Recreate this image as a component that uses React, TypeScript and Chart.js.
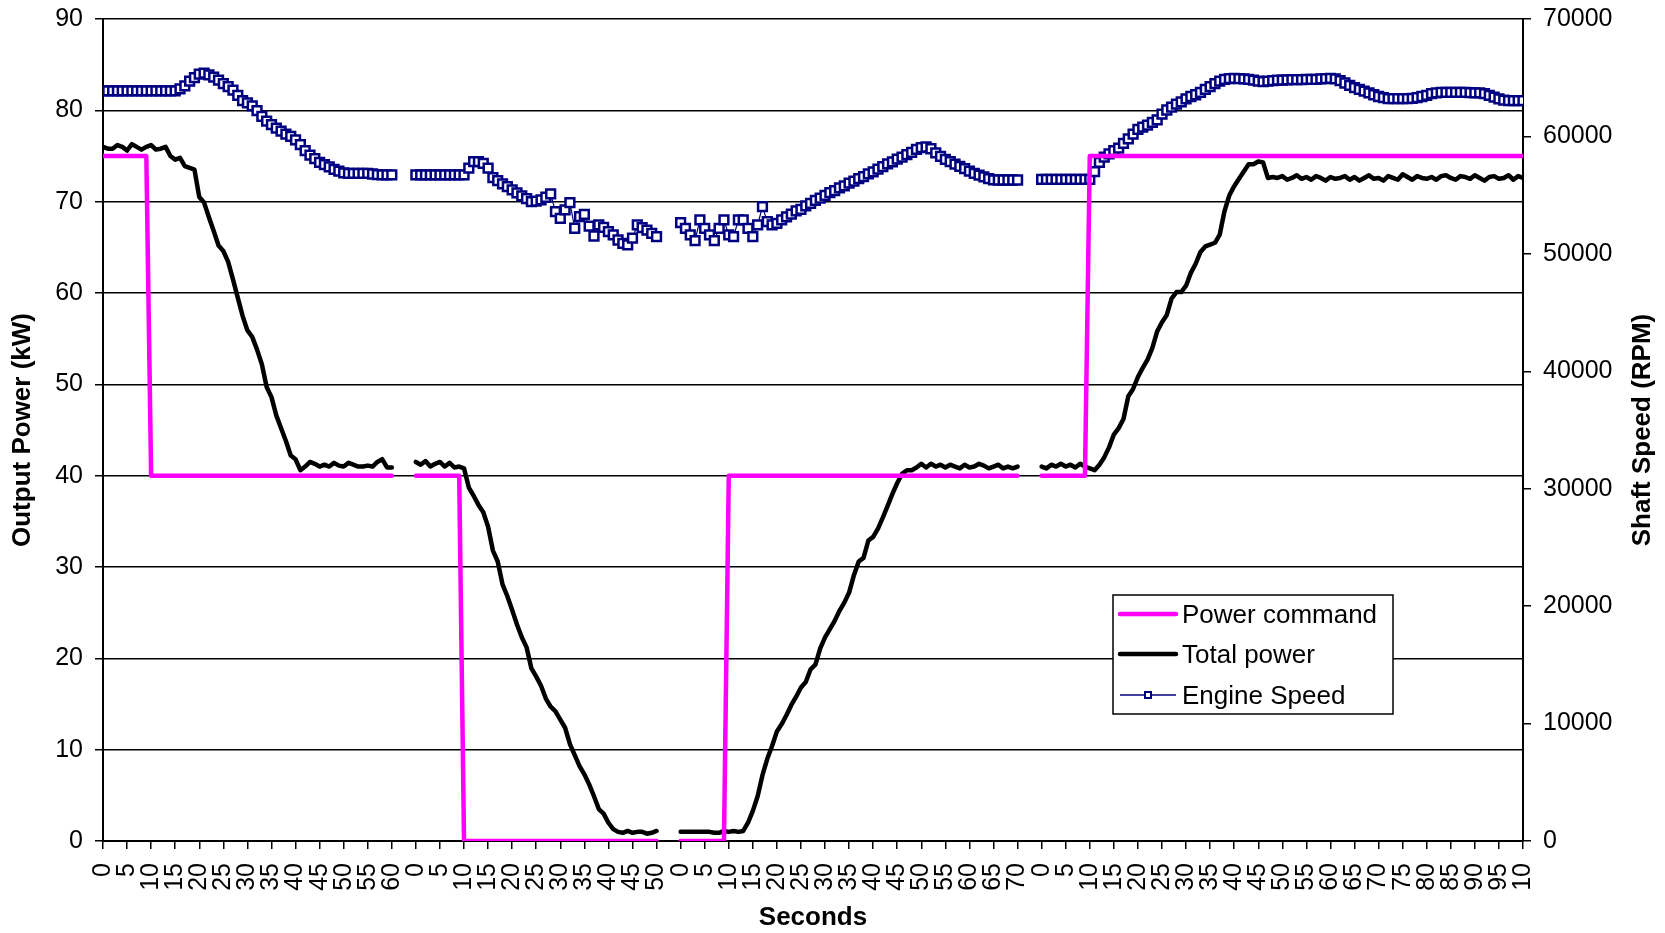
import React, { useEffect, useRef } from 'react';
import { Chart, registerables } from 'chart.js';

Chart.register(...registerables);

const FONT = '"Liberation Sans", Arial, Helvetica, sans-serif';

// Number of blank categories between two test runs on the category axis
const GAP_CATEGORIES = 4;

// Category-axis labels shown (every 5th category)
const tickLabels = [
  '0', '5', '10', '15', '20', '25', '30', '35', '40', '45', '50', '55', '60',
  '0', '5', '10', '15', '20', '25', '30', '35', '40', '45', '50',
  '0', '5', '10', '15', '20', '25', '30', '35', '40', '45', '50', '55', '60', '65', '70',
  '0', '5', '10', '15', '20', '25', '30', '35', '40', '45', '50', '55', '60', '65', '70', '75', '80', '85', '90', '95', '10',
];

// ---- Run 1 (0..60 s) ----
const powerCommand1 = [
  75, 75, 75, 75, 75, 75, 75, 75, 75, 75,
  40, 40, 40, 40, 40, 40, 40, 40, 40, 40,
  40, 40, 40, 40, 40, 40, 40, 40, 40, 40,
  40, 40, 40, 40, 40, 40, 40, 40, 40, 40,
  40, 40, 40, 40, 40, 40, 40, 40, 40, 40,
  40, 40, 40, 40, 40, 40, 40, 40, 40, 40,
  40,
];
const totalPower1 = [
  76.0, 75.8, 75.8, 76.2, 76.0, 75.6, 76.3, 76.0, 75.7, 76.0,
  76.2, 75.7, 75.8, 76.0, 75.0, 74.6, 74.8, 73.9, 73.7, 73.5,
  70.5, 69.9, 68.3, 66.8, 65.2, 64.6, 63.4, 61.5, 59.5, 57.5,
  55.9, 55.2, 53.8, 52.2, 49.7, 48.6, 46.6, 45.2, 43.8, 42.2,
  41.8, 40.6, 41.0, 41.5, 41.3, 41.0, 41.2, 41.0, 41.4, 41.1,
  41.0, 41.4, 41.2, 41.0, 41.0, 41.1, 41.0, 41.5, 41.8, 40.9,
  40.9,
];
const engineSpeed1 = [
  63870, 63870, 63870, 63870, 63870, 63870, 63870, 63870, 63870, 63870,
  63870, 63870, 63870, 63870, 63870, 63870, 64050, 64300, 64700, 65000,
  65300, 65400, 65250, 65050, 64800, 64500, 64250, 63950, 63500, 63050,
  62850, 62600, 62200, 61700, 61300, 61000, 60700, 60450, 60200, 60000,
  59700, 59300, 58800, 58400, 58100, 57800, 57600, 57400, 57200, 57050,
  56900, 56850, 56850, 56850, 56850, 56850, 56800, 56750, 56720, 56720,
  56720,
];

// ---- Run 2 (0..50 s) ----
const powerCommand2 = [
  40, 40, 40, 40, 40, 40, 40, 40, 40, 40,
  0, 0, 0, 0, 0, 0, 0, 0, 0, 0,
  0, 0, 0, 0, 0, 0, 0, 0, 0, 0,
  0, 0, 0, 0, 0, 0, 0, 0, 0, 0,
  0, 0, 0, 0, 0, 0, 0, 0, 0, 0,
  0,
];
const totalPower2 = [
  41.5, 41.2, 41.6, 41.0, 41.3, 41.5, 41.0, 41.4, 40.9, 41.0,
  40.8, 38.7, 37.8, 36.8, 36.0, 34.4, 31.8, 30.6, 28.1, 26.8,
  25.3, 23.7, 22.3, 21.2, 18.9, 18.0, 17.0, 15.6, 14.7, 14.2,
  13.3, 12.4, 10.6, 9.4, 8.2, 7.3, 6.2, 4.9, 3.5, 3.0,
  2.0, 1.3, 1.0, 0.9, 1.1, 0.9, 1.0, 1.0, 0.8, 0.9,
  1.1,
];
const engineSpeed2 = [
  56720, 56720, 56720, 56720, 56720, 56720, 56720, 56720, 56720, 56720,
  56720, 57300, 57850, 57850, 57710, 57300, 56500, 56230, 55950, 55720,
  55450, 55200, 54930, 54700, 54440, 54500, 54590, 54820, 55100, 53590,
  53030, 53740, 54360, 52180, 53170, 53370, 52370, 51520, 52460, 52260,
  51890, 51610, 51180, 50900, 50760, 51330, 52460, 52230, 52030, 51750,
  51460,
];

// ---- Run 3 (0..70 s) ----
const powerCommand3 = [
  0, 0, 0, 0, 0, 0, 0, 0, 0, 0,
  40, 40, 40, 40, 40, 40, 40, 40, 40, 40,
  40, 40, 40, 40, 40, 40, 40, 40, 40, 40,
  40, 40, 40, 40, 40, 40, 40, 40, 40, 40,
  40, 40, 40, 40, 40, 40, 40, 40, 40, 40,
  40, 40, 40, 40, 40, 40, 40, 40, 40, 40,
  40, 40, 40, 40, 40, 40, 40, 40, 40, 40,
  40,
];
const totalPower3 = [
  1.0, 1.0, 1.0, 1.0, 1.0, 1.0, 1.0, 0.9, 0.9, 1.1,
  1.0, 1.1, 1.0, 1.1, 2.0, 3.3, 4.9, 7.2, 9.0, 10.4,
  12.0, 12.8, 13.8, 14.9, 15.8, 16.8, 17.4, 18.8, 19.3, 21.1,
  22.3, 23.2, 24.1, 25.2, 26.1, 27.2, 29.1, 30.6, 31.0, 32.9,
  33.3, 34.2, 35.4, 36.7, 38.0, 39.2, 40.2, 40.6, 40.6, 40.9,
  41.3, 40.9, 41.3, 41.0, 41.2, 40.9, 41.2, 41.0, 40.8, 41.2,
  40.9, 41.0, 41.3, 41.1, 40.8, 41.0, 41.2, 40.8, 41.0, 40.8,
  41.0,
];
const engineSpeed3 = [
  52650, 52170, 51610, 51120, 52890, 52170, 51610, 51120, 52170, 52890,
  51610, 51460, 52890, 52890, 52170, 51460, 52460, 54020, 52740, 52460,
  52600, 52890, 53150, 53380, 53660, 53790, 54080, 54290, 54560, 54740,
  54980, 55220, 55390, 55610, 55780, 56020, 56190, 56410, 56580, 56810,
  56990, 57210, 57420, 57660, 57840, 58060, 58240, 58460, 58640, 58900,
  59050, 59100, 58950, 58600, 58300, 58050, 57850, 57650, 57450, 57250,
  57050, 56850, 56700, 56550, 56400, 56300, 56290, 56290, 56290, 56290,
  56290,
];

// ---- Run 4 (0..100 s) ----
const powerCommand4 = [
  40, 40, 40, 40, 40, 40, 40, 40, 40, 40,
  75, 75, 75, 75, 75, 75, 75, 75, 75, 75,
  75, 75, 75, 75, 75, 75, 75, 75, 75, 75,
  75, 75, 75, 75, 75, 75, 75, 75, 75, 75,
  75, 75, 75, 75, 75, 75, 75, 75, 75, 75,
  75, 75, 75, 75, 75, 75, 75, 75, 75, 75,
  75, 75, 75, 75, 75, 75, 75, 75, 75, 75,
  75, 75, 75, 75, 75, 75, 75, 75, 75, 75,
  75, 75, 75, 75, 75, 75, 75, 75, 75, 75,
  75, 75, 75, 75, 75, 75, 75, 75, 75, 75,
  75,
];
const totalPower4 = [
  41.0, 40.8, 41.2, 41.0, 41.3, 41.0, 41.2, 40.9, 41.3, 41.0,
  40.8, 40.6, 41.2, 42.0, 43.1, 44.5, 45.2, 46.2, 48.7, 49.5,
  50.8, 51.8, 52.7, 54.0, 55.8, 56.8, 57.6, 59.4, 60.1, 60.1,
  60.8, 62.2, 63.2, 64.5, 65.1, 65.3, 65.5, 66.4, 69.0, 70.7,
  71.7, 72.5, 73.3, 74.1, 74.1, 74.4, 74.3, 72.6, 72.7, 72.6,
  72.8, 72.4, 72.6, 72.9, 72.5, 72.7, 72.4, 72.8, 72.6, 72.3,
  72.7, 72.5, 72.6, 72.8, 72.4, 72.7, 72.3, 72.6, 72.9, 72.5,
  72.6, 72.3, 72.8, 72.6, 72.4, 73.0, 72.7, 72.4, 72.8, 72.6,
  72.5, 72.7, 72.4, 72.8, 72.9, 72.6, 72.4, 72.8, 72.7, 72.5,
  72.9, 72.6, 72.3, 72.7, 72.8, 72.5, 72.6, 72.9, 72.4, 72.8,
  72.6,
];
const engineSpeed4 = [
  56340, 56340, 56340, 56340, 56340, 56340, 56340, 56340, 56340, 56340,
  56340, 57000, 57790, 58240, 58510, 58800, 59000, 59400, 59800, 60200,
  60600, 60800, 60960, 61200, 61410, 61900, 62250, 62500, 62750, 62950,
  63200, 63400, 63550, 63750, 64000, 64250, 64500, 64700, 64850, 64930,
  64950, 64930, 64900, 64850, 64800, 64700, 64660, 64700, 64750, 64800,
  64800, 64820, 64840, 64840, 64840, 64850, 64850, 64850, 64900, 64930,
  64950, 64900, 64750, 64550, 64350, 64150, 64000, 63850, 63700, 63550,
  63400, 63300, 63220, 63220, 63220, 63220, 63220, 63250, 63300, 63400,
  63500, 63650, 63700, 63760, 63760, 63760, 63760, 63760, 63760, 63740,
  63700, 63700, 63650, 63500, 63350, 63200, 63100, 63050, 63040, 63040,
  63040,
];

const powerCommandRuns = [powerCommand1, powerCommand2, powerCommand3, powerCommand4];
const totalPowerRuns = [totalPower1, totalPower2, totalPower3, totalPower4];
const engineSpeedRuns = [engineSpeed1, engineSpeed2, engineSpeed3, engineSpeed4];

function toPoints(runs: number[][]) {
  const pts: { x: number; y: number | null }[] = [];
  let start = 0;
  runs.forEach((run, r) => {
    run.forEach((v, i) => pts.push({ x: start + i, y: v }));
    if (r < runs.length - 1) pts.push({ x: start + run.length, y: null });
    start += run.length + GAP_CATEGORIES;
  });
  return { pts, last: start - GAP_CATEGORIES - 1 };
}

const overlayPlugin = {
  id: 'overlay',
  afterDraw(chart: any) {
    const ctx = chart.ctx as CanvasRenderingContext2D;
    const ca = chart.chartArea;
    const cy = (ca.top + ca.bottom) / 2;
    ctx.save();
    ctx.fillStyle = '#000';
    ctx.font = `bold 26px ${FONT}`;
    ctx.textAlign = 'center';
    ctx.textBaseline = 'middle';
    ctx.save();
    ctx.translate(23, cy);
    ctx.rotate(-Math.PI / 2);
    ctx.fillText('Output Power (kW)', 0, 0);
    ctx.restore();
    ctx.save();
    ctx.translate(1643, cy);
    ctx.rotate(-Math.PI / 2);
    ctx.fillText('Shaft Speed (RPM)', 0, 0);
    ctx.restore();
    ctx.fillText('Seconds', (ca.left + ca.right) / 2, 918);

    // legend
    const bx = 1113, by = 595, bw = 280, bh = 119;
    ctx.fillStyle = '#fff';
    ctx.fillRect(bx, by, bw, bh);
    ctx.strokeStyle = '#000';
    ctx.lineWidth = 1.5;
    ctx.strokeRect(bx, by, bw, bh);
    const items = [
      { label: 'Power command', color: '#FF00FF', width: 4.5, marker: false, y: 614 },
      { label: 'Total power', color: '#000000', width: 4.5, marker: false, y: 654 },
      { label: 'Engine Speed', color: '#000080', width: 1.4, marker: true, y: 695 },
    ];
    ctx.font = `26px ${FONT}`;
    ctx.textAlign = 'left';
    ctx.textBaseline = 'middle';
    items.forEach((it) => {
      ctx.beginPath();
      ctx.strokeStyle = it.color;
      ctx.lineWidth = it.width;
      ctx.lineCap = it.marker ? 'butt' : 'round';
      ctx.moveTo(1120, it.y);
      ctx.lineTo(1176, it.y);
      ctx.stroke();
      if (it.marker) {
        ctx.fillStyle = '#fff';
        ctx.fillRect(1145, it.y - 3, 6, 6);
        ctx.lineWidth = 2;
        ctx.strokeRect(1145, it.y - 3, 6, 6);
      }
      ctx.fillStyle = '#000';
      ctx.fillText(it.label, 1182, it.y + 2);
    });
    ctx.restore();
  },
};

export default function App() {
  const canvasRef = useRef<HTMLCanvasElement | null>(null);

  useEffect(() => {
    const canvas = canvasRef.current;
    if (!canvas) return;
    const cmd = toPoints(powerCommandRuns);
    const tot = toPoints(totalPowerRuns);
    const spd = toPoints(engineSpeedRuns);

    const chart = new Chart(canvas, {
      type: 'line',
      data: {
        datasets: [
          {
            label: 'Power command',
            data: cmd.pts as any,
            borderColor: '#FF00FF',
            borderWidth: 4.5,
            pointRadius: 0,
            tension: 0,
            spanGaps: false,
            borderCapStyle: 'round',
            borderJoinStyle: 'round',
            yAxisID: 'y',
          },
          {
            label: 'Total power',
            data: tot.pts as any,
            borderColor: '#000000',
            borderWidth: 4.5,
            pointRadius: 0,
            tension: 0,
            spanGaps: false,
            borderCapStyle: 'round',
            borderJoinStyle: 'round',
            yAxisID: 'y',
          },
          {
            label: 'Engine Speed',
            data: spd.pts as any,
            borderColor: '#000080',
            borderWidth: 1.2,
            pointStyle: 'rect',
            pointRadius: 6.2,
            pointBorderWidth: 2.5,
            pointBorderColor: '#000080',
            pointBackgroundColor: '#ffffff',
            tension: 0,
            spanGaps: false,
            yAxisID: 'y1',
          },
        ],
      },
      options: {
        responsive: false,
        animation: false,
        devicePixelRatio: 1,
        layout: { padding: { top: 19, left: 0, right: 0, bottom: 0 } },
        plugins: {
          legend: { display: false },
          tooltip: { enabled: false },
        },
        scales: {
          x: {
            type: 'linear',
            min: 0,
            max: cmd.last,
            afterFit: (s: any) => { s.height = 92; },
            ticks: {
              stepSize: 5,
              autoSkip: false,
              maxRotation: 90,
              minRotation: 90,
              color: '#000',
              padding: 14,
              font: { family: FONT, size: 25 },
              callback: (_v: any, i: number) => tickLabels[i] ?? '',
            },
            grid: { drawOnChartArea: false, drawTicks: true, tickLength: 8, color: '#000', lineWidth: 1.5 },
            border: { display: true, color: '#000', width: 2 },
          },
          y: {
            position: 'left',
            min: 0,
            max: 90,
            afterFit: (s: any) => { s.width = 103; s.paddingTop = 0; s.paddingBottom = 0; },
            ticks: { stepSize: 10, color: '#000', padding: 12, font: { family: FONT, size: 25 } },
            grid: { color: '#000', lineWidth: 1.5, drawTicks: true, tickLength: 8 },
            border: { display: true, color: '#000', width: 2 },
          },
          y1: {
            position: 'right',
            min: 0,
            max: 70000,
            afterFit: (s: any) => { s.width = 142; s.paddingTop = 0; s.paddingBottom = 0; },
            ticks: {
              stepSize: 10000,
              color: '#000',
              padding: 12,
              font: { family: FONT, size: 25 },
              callback: (v: any) => String(v),
            },
            grid: { drawOnChartArea: false, color: '#000', lineWidth: 1.5, drawTicks: true, tickLength: 8 },
            border: { display: true, color: '#000', width: 2 },
          },
        },
      },
      plugins: [overlayPlugin],
    } as any);

    return () => chart.destroy();
  }, []);

  return (
    <div style={{ position: 'absolute', left: 0, top: 0, width: 1665, height: 933, background: '#fff' }}>
      <canvas ref={canvasRef} width={1665} height={933} style={{ width: 1665, height: 933, display: 'block' }} />
    </div>
  );
}
